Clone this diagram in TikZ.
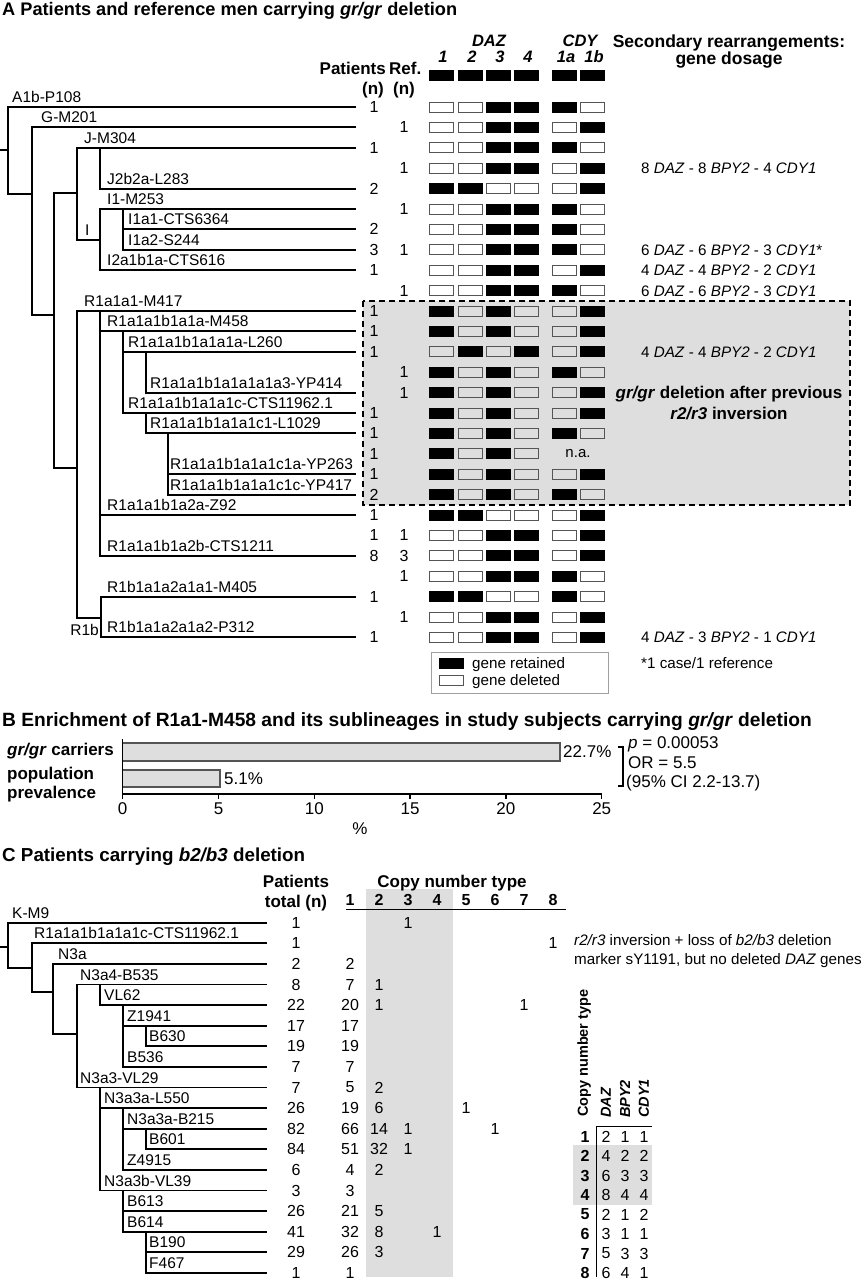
\documentclass[tikz,border=0pt]{standalone}
\usepackage{fontspec}
\setmainfont{Liberation Sans}
\newcommand\fsz[1]{\fontsize{#1pt}{#1pt}\selectfont}
\definecolor{bg}{RGB}{222,222,222}
\definecolor{dg}{RGB}{85,85,85}
\begin{document}
\begin{tikzpicture}[x=1pt,y=-1pt,
  tree/.style={line width=1.9pt},
  gbox/.style={minimum width=24pt,minimum height=10pt,inner sep=0pt,outer sep=0pt,line width=0.9pt},
  gs/.code={\ifnum#1=1 \pgfkeysalso{draw=black,fill=black}\else\ifnum#1=0 \pgfkeysalso{draw=dg}\fi\fi},
  lab/.style={anchor=base west,inner sep=0pt,font=\fsz{15.5}},
  num/.style={inner sep=0pt,font=\fsz{16}},
  hd/.style={inner sep=0pt,anchor=base,font=\bfseries\fsz{17}},
  hdi/.style={inner sep=0pt,anchor=base,font=\bfseries\itshape\fsz{16.5}},
  note/.style={inner sep=0pt,anchor=base west,font=\fsz{15.2}},
  bt/.style={inner sep=0pt,anchor=base,font=\fsz{17}},
  ttl/.style={inner sep=0pt,anchor=base west,font=\bfseries\fsz{18.2}},
]
\useasboundingbox (0,0) rectangle (865,1280);
\fill[white] (0,0) rectangle (865,1280);

% ================= A =================
\node[ttl] (tA) at (2,15) {A Patients and reference men carrying \textit{gr/gr} deletion};

% dashed grey region
\draw[fill=bg,dashed,dash pattern=on 6pt off 4pt,line width=1.1pt] (363,301) rectangle (850,505);

% headers
\node[hd,anchor=base east] (hP) at (386,74) {Patients};
\node[hd,anchor=base west] (hR) at (389,74) {Ref.};
\node[hd] (hn1) at (373,94) {(n)};
\node[hd] (hn2) at (404,94) {(n)};
\node[hdi] (hDAZ) at (489,46) {DAZ};
\node[hdi] (hCDY) at (580,46) {CDY};
\foreach \t/\x in {1/443,2/472,3/500,4/528,1a/566,1b/594} \node[hdi] (hc\t) at (\x,62) {\t};
\node[hd,font=\bfseries\fsz{17.5}] (hS1) at (729,47) {Secondary rearrangements:};
\node[hd,font=\bfseries\fsz{17.5}] (hS2) at (729,64) {gene dosage};
\foreach \x [count=\i] in {441,470,498,526,564,592} \node[gbox,gs=1] (hb\i) at (\x,75) {};

% gene boxes
\foreach \r/\a/\b/\c/\d/\e/\f in {1/0/0/1/1/1/0,2/0/0/1/1/0/1,3/0/0/1/1/1/0,4/0/0/1/1/0/1,5/1/1/0/0/0/1,
 6/0/0/1/1/1/0,7/0/0/1/1/1/0,8/0/0/1/1/1/0,9/0/0/1/1/0/1,10/0/0/1/1/1/0,
 11/1/0/1/0/0/1,12/1/0/1/0/0/1,13/0/1/0/1/0/1,14/1/0/1/0/1/0,15/1/0/1/0/0/1,
 16/1/0/1/0/0/1,17/1/0/1/0/1/0,18/1/0/1/0/2/2,19/1/0/1/0/0/1,20/1/0/1/0/1/0,
 21/1/1/0/0/0/1,22/0/0/1/1/0/1,23/0/0/1/1/0/1,24/0/0/1/1/1/0,25/1/1/0/0/1/0,
 26/0/0/1/1/0/1,27/0/0/1/1/0/1}{
  \pgfmathsetmacro\yy{107+(\r-1)*20.4}
  \node[gbox,gs=\a] (b\r-1) at (441,\yy) {};
  \node[gbox,gs=\b] (b\r-2) at (470,\yy) {};
  \node[gbox,gs=\c] (b\r-3) at (498,\yy) {};
  \node[gbox,gs=\d] (b\r-4) at (526,\yy) {};
  \node[gbox,gs=\e] (b\r-5) at (564,\yy) {};
  \node[gbox,gs=\f] (b\r-6) at (592,\yy) {};
}
\node[inner sep=0pt,anchor=base,font=\fsz{15}] (na) at (578,457.8) {n.a.};

% patient / reference counts
\foreach \r/\v in {1/1,3/1,5/2,7/2,8/3,9/1,11/1,12/1,13/1,16/1,17/1,18/1,19/1,20/2,21/1,22/1,23/8,25/1,27/1}{
  \pgfmathsetmacro\yy{107+(\r-1)*20.4}
  \node[num] (pa\r) at (374,\yy) {\v};}
\foreach \r/\v in {2/1,4/1,6/1,8/1,10/1,14/1,15/1,22/1,23/3,24/1,26/1}{
  \pgfmathsetmacro\yy{107+(\r-1)*20.4}
  \node[num] (rf\r) at (404,\yy) {\v};}

% notes
\foreach \r/\t [count=\i] in {4/{8 \textit{DAZ} - 8 \textit{BPY2} - 4 \textit{CDY1}},
  8/{6 \textit{DAZ} - 6 \textit{BPY2} - 3 \textit{CDY1}*},
  9/{4 \textit{DAZ} - 4 \textit{BPY2} - 2 \textit{CDY1}},
  10/{6 \textit{DAZ} - 6 \textit{BPY2} - 3 \textit{CDY1}},
  13/{4 \textit{DAZ} - 4 \textit{BPY2} - 2 \textit{CDY1}},
  27/{4 \textit{DAZ} - 3 \textit{BPY2} - 1 \textit{CDY1}}}{
  \pgfmathsetmacro\yy{107+(\r-1)*20.4+5.4}
  \node[note] (nt\i) at (641,\yy) {\t};}
\node[hd] (inv1) at (729,398.7) {\textit{gr/gr} deletion after previous};
\node[hd] (inv2) at (729,419.1) {\textit{r2/r3} inversion};

% legend
\draw[draw=gray!75,line width=1pt] (431,652) rectangle (608,693);
\node[gbox,gs=1] (lgb1) at (451,663) {};
\node[gbox,gs=0] (lgb2) at (451,680) {};
\node[note] (lgt1) at (472,668.4) {gene retained};
\node[note] (lgt2) at (472,685.4) {gene deleted};
\node[note] (foot) at (641,668.4) {*1 case/1 reference};

% tree A
\draw[tree] (0,150)--(8,150);
\draw[tree] (356,107)--(8,107)--(8,194)--(32,194);
\draw[tree] (356,127.4)--(32,127.4)--(32,315)--(54,315);
\draw[tree] (77,193)--(54,193)--(54,468)--(77,468);
\draw[tree] (356,147.8)--(77,147.8)--(77,240)--(100,240);
\draw[tree] (100,147.8)--(100,188.6)--(356,188.6);
\draw[tree] (356,209)--(100,209)--(100,270.2)--(356,270.2);
\draw[tree] (123,209)--(123,249.8)--(356,249.8);
\draw[tree] (123,229.4)--(356,229.4);
\draw[tree] (356,311)--(77,311)--(77,618)--(101,618);
\draw[tree] (100,311)--(100,555.8)--(356,555.8);
\draw[tree] (100,331.4)--(356,331.4);
\draw[tree] (123,331.4)--(123,413)--(356,413);
\draw[tree] (123,351.8)--(356,351.8);
\draw[tree] (146,351.8)--(146,392.6)--(356,392.6);
\draw[tree] (146,413)--(146,433.4)--(356,433.4);
\draw[tree] (168,433.4)--(168,494.6)--(356,494.6);
\draw[tree] (168,474.2)--(356,474.2);
\draw[tree] (100,515)--(356,515);
\draw[tree] (356,596.6)--(101,596.6)--(101,637.4)--(356,637.4);

\foreach \x/\r/\t [count=\i] in {12/1/A1b-P108,41/2/G-M201,84/3/J-M304,107/5/J2b2a-L283,107/6/I1-M253,
  128/7/I1a1-CTS6364,128/8/I1a2-S244,107/9/I2a1b1a-CTS616,84/11/R1a1a1-M417,107/12/R1a1a1b1a1a-M458,
  128/13/R1a1a1b1a1a1a-L260,150/15/R1a1a1b1a1a1a1a3-YP414,128/16/R1a1a1b1a1a1c-CTS11962.1,
  150/17/R1a1a1b1a1a1c1-L1029,170/19/R1a1a1b1a1a1c1a-YP263,170/20/R1a1a1b1a1a1c1c-YP417,
  107/21/R1a1a1b1a2a-Z92,107/23/R1a1a1b1a2b-CTS1211,107/25/R1b1a1a2a1a1-M405,107/27/R1b1a1a2a1a2-P312}{
  \pgfmathsetmacro\yy{107+(\r-1)*20.4-4.5}
  \node[lab] (ta\i) at (\x,\yy) {\t};}
\node[lab] (tI) at (85,235) {I};
\node[lab,anchor=base east] (tR1b) at (99,635) {R1b};

% ================= B =================
\node[ttl,font=\bfseries\fsz{19.2}] (tB) at (2,726) {B Enrichment of R1a1-M458 and its sublineages in study subjects carrying \textit{gr/gr} deletion};
\draw[fill=bg,draw=dg,line width=1.2pt] (122.7,743) rectangle (560,761);
\draw[fill=bg,draw=dg,line width=1.2pt] (122.7,770) rectangle (220,787);
\draw[line width=1.3pt] (122.7,739)--(122.7,794)--(601.7,794);
\foreach \v [count=\i] in {0,5,10,15,20,25}{
  \draw[line width=1.3pt] (122.7+\v*19.16,794)--(122.7+\v*19.16,799);
  \node[bt] (tk\i) at (122.7+\v*19.16,814) {\v};}
\node[bt] (pct) at (360,834) {\%};
\node[bt,anchor=base west,font=\bfseries\fsz{17}] (bl1) at (7,755) {\textit{gr/gr} carriers};
\node[bt,anchor=base west,font=\bfseries\fsz{17}] (bl2) at (7,779.5) {population};
\node[bt,anchor=base west,font=\bfseries\fsz{17}] (bl3) at (7,798) {prevalence};
\node[bt,anchor=base west] (bv1) at (563,757.5) {22.7\%};
\node[bt,anchor=base west] (bv2) at (224,784.5) {5.1\%};
\draw[line width=1.2pt] (618,747)--(623,747)--(623,786)--(618,786);
\node[bt,anchor=base west] (st1) at (628,748.5) {\textit{p} = 0.00053};
\node[bt,anchor=base west] (st2) at (628,768) {OR = 5.5};
\node[bt,anchor=base west] (st3) at (626,787.5) {(95\% CI 2.2-13.7)};

% ================= C =================
\node[ttl,font=\bfseries\fsz{18.8}] (tC) at (2,861) {C Patients carrying \textit{b2/b3} deletion};
\fill[bg] (366,889) rectangle (453,1277);
\node[hd] (cP1) at (296,887) {Patients};
\node[hd] (cP2) at (296,907) {total (n)};
\node[hd] (cCN) at (452,887) {Copy number type};
\foreach \c in {1,...,8} \node[hd,font=\bfseries\fsz{16}] (cc\c) at (350+\c*29-29,905) {\c};
\draw[line width=1.3pt] (346,909.5)--(566,909.5);

\draw[tree] (0,947)--(8,947);
\draw[tree] (267,922.7)--(8,922.7)--(8,968.3)--(32,968.3);
\draw[tree] (267,943.3)--(32,943.3)--(32,992)--(53,992);
\draw[tree] (267,963.9)--(53,963.9)--(53,1034.3)--(77,1034.3);
\draw[tree] (267,984.5)--(77,984.5)--(77,1087.5)--(267,1087.5);
\draw[tree] (100,984.5)--(100,1005.1)--(267,1005.1);
\draw[tree] (123,1005.1)--(123,1066.9)--(267,1066.9);
\draw[tree] (123,1025.7)--(267,1025.7);
\draw[tree] (146,1025.7)--(146,1046.3)--(267,1046.3);
\draw[tree] (100,1087.5)--(100,1190.5)--(267,1190.5);
\draw[tree] (100,1108.1)--(267,1108.1);
\draw[tree] (123,1108.1)--(123,1169.9)--(267,1169.9);
\draw[tree] (123,1128.7)--(267,1128.7);
\draw[tree] (146,1128.7)--(146,1149.3)--(267,1149.3);
\draw[tree] (123,1190.5)--(123,1231.7)--(267,1231.7);
\draw[tree] (123,1211.1)--(267,1211.1);
\draw[tree] (146,1231.7)--(146,1272.9)--(267,1272.9);
\draw[tree] (146,1252.3)--(267,1252.3);

\foreach \x/\r/\t [count=\i] in {12/1/K-M9,34/2/R1a1a1b1a1a1c-CTS11962.1,58/3/N3a,80/4/N3a4-B535,104/5/VL62,
  127/6/Z1941,149/7/B630,127/8/B536,80/9/N3a3-VL29,104/10/N3a3a-L550,127/11/N3a3a-B215,149/12/B601,
  127/13/Z4915,104/14/N3a3b-VL39,127/15/B613,127/16/B614,149/17/B190,149/18/F467}{
  \pgfmathsetmacro\yy{922.7+(\r-1)*20.6-4.5}
  \node[lab] (tc\i) at (\x,\yy) {\t};}

\foreach \r/\v in {1/1,2/1,3/2,4/8,5/22,6/17,7/19,8/7,9/7,10/26,11/82,12/84,13/6,14/3,15/26,16/41,17/29,18/1}{
  \pgfmathsetmacro\yy{922.7+(\r-1)*20.6}
  \node[num] (ct\r) at (296,\yy) {\v};}
\foreach \r/\c/\v in {1/3/1,2/8/1,3/1/2,4/1/7,4/2/1,5/1/20,5/2/1,5/7/1,6/1/17,7/1/19,8/1/7,9/1/5,9/2/2,
  10/1/19,10/2/6,10/5/1,11/1/66,11/2/14,11/3/1,11/6/1,12/1/51,12/2/32,12/3/1,13/1/4,13/2/2,14/1/3,
  15/1/21,15/2/5,16/1/32,16/2/8,16/4/1,17/1/26,17/2/3,18/1/1}{
  \pgfmathsetmacro\yy{922.7+(\r-1)*20.6}
  \pgfmathsetmacro\xx{350+(\c-1)*29}
  \node[num] (cn\r-\c) at (\xx,\yy) {\v};}

\node[note] (cnote1) at (574,945.5) {\textit{r2/r3} inversion + loss of \textit{b2/b3} deletion};
\node[note] (cnote2) at (574,964.5) {marker sY1191, but no deleted \textit{DAZ} genes};

% copy number legend table
\fill[bg] (573,1145) rectangle (652,1205);
\draw[line width=1pt] (652,1126)--(596,1126)--(596,1277);
\node[inner sep=0pt,rotate=90,anchor=west,font=\bfseries\fsz{14.5}] (lgc) at (584,1117) {Copy number type};
\foreach \t/\x [count=\i] in {DAZ/606,BPY2/625,CDY1/644}
  \node[inner sep=0pt,rotate=90,anchor=west,font=\bfseries\itshape\fsz{14.5}] (lgh\i) at (\x,1118) {\t};
\foreach \k/\a/\b/\c in {1/2/1/1,2/4/2/2,3/6/3/3,4/8/4/4,5/2/1/2,6/3/1/1,7/5/3/3,8/6/4/1}{
  \pgfmathsetmacro\yy{1136.5+(\k-1)*19.5}
  \node[num,font=\bfseries\fsz{16}] (lk\k) at (585,\yy) {\k};
  \node[num] (la\k) at (606,\yy) {\a};
  \node[num] (lb\k) at (625,\yy) {\b};
  \node[num] (lc\k) at (644,\yy) {\c};}
\end{tikzpicture}
\end{document}
